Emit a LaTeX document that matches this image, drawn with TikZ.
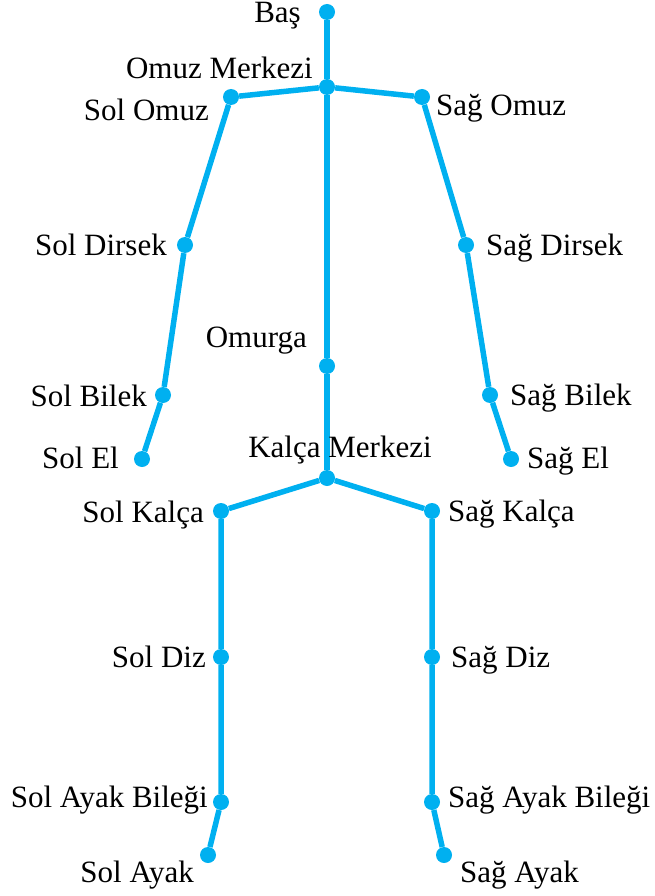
\documentclass[tikz,border=0pt]{standalone}
\usepackage{fontspec}
\setmainfont{Liberation Serif}
\definecolor{bone}{RGB}{0,176,240}
\begin{document}
\begin{tikzpicture}[x=1pt,y=-1pt,
  joint/.style={circle,fill=bone,inner sep=0pt,minimum size=16pt},
  bonel/.style={draw=bone,line width=5.5pt},
  lbl/.style={font=\fontsize{31}{37}\selectfont,inner sep=0pt}]
\useasboundingbox (0,0) rectangle (655,896);

% joints
\node[joint] (bas)   at (327,12)  {};
\node[joint] (omm)   at (327,87)  {};
\node[joint] (somuz) at (231,97)  {};
\node[joint] (gomuz) at (422,97)  {};
\node[joint] (sdir)  at (185,245) {};
\node[joint] (gdir)  at (466,245) {};
\node[joint] (sbil)  at (163,395) {};
\node[joint] (gbil)  at (490,395) {};
\node[joint] (sel)   at (142,459) {};
\node[joint] (gel)   at (511,459) {};
\node[joint] (omurga) at (327,366) {};
\node[joint] (kalm)  at (327,478) {};
\node[joint] (skal)  at (221,511) {};
\node[joint] (gkal)  at (432,511) {};
\node[joint] (sdiz)  at (221,657) {};
\node[joint] (gdiz)  at (432,657) {};
\node[joint] (sabil) at (221,802) {};
\node[joint] (gabil) at (432,802) {};
\node[joint] (sayak) at (208,855) {};
\node[joint] (gayak) at (444,855) {};

% bones
\draw[bonel] (bas) -- (omm) -- (omurga) -- (kalm);
\draw[bonel] (omm) -- (somuz) -- (sdir) -- (sbil) -- (sel);
\draw[bonel] (omm) -- (gomuz) -- (gdir) -- (gbil) -- (gel);
\draw[bonel] (kalm) -- (skal) -- (sdiz) -- (sabil) -- (sayak);
\draw[bonel] (kalm) -- (gkal) -- (gdiz) -- (gabil) -- (gayak);

% labels
\node[lbl,anchor=base east] (tbas)   at (301,23)  {Baş};
\node[lbl,anchor=base east] (tomm)   at (313,79)  {Omuz Merkezi};
\node[lbl,anchor=base east] (tsomuz) at (209,121) {Sol Omuz};
\node[lbl,anchor=base west] (tgomuz) at (436,116) {Sağ Omuz};
\node[lbl,anchor=base east] (tsdir)  at (167,255) {Sol Dirsek};
\node[lbl,anchor=base west] (tgdir)  at (486,255) {Sağ Dirsek};
\node[lbl,anchor=base east] (tomurga) at (307,347) {Omurga};
\node[lbl,anchor=base east] (tsbil)  at (147,406) {Sol Bilek};
\node[lbl,anchor=base west] (tgbil)  at (510,405) {Sağ Bilek};
\node[lbl,anchor=base east] (tsel)   at (119,468) {Sol El};
\node[lbl,anchor=base west] (tgel)   at (527,468) {Sağ El};
\node[lbl,anchor=base]      (tkalm)  at (340,457) {Kalça Merkezi};
\node[lbl,anchor=base east] (tskal)  at (204,522) {Sol Kalça};
\node[lbl,anchor=base west] (tgkal)  at (448,521) {Sağ Kalça};
\node[lbl,anchor=base east] (tsdiz)  at (206,667) {Sol Diz};
\node[lbl,anchor=base west] (tgdiz)  at (451,667) {Sağ Diz};
\node[lbl,anchor=base east] (tsabil) at (208,807) {Sol Ayak Bileği};
\node[lbl,anchor=base west] (tgabil) at (448,807) {Sağ Ayak Bileği};
\node[lbl,anchor=base east] (tsayak) at (194,882) {Sol Ayak};
\node[lbl,anchor=base west] (tgayak) at (460,882) {Sağ Ayak};
\end{tikzpicture}
\end{document}
